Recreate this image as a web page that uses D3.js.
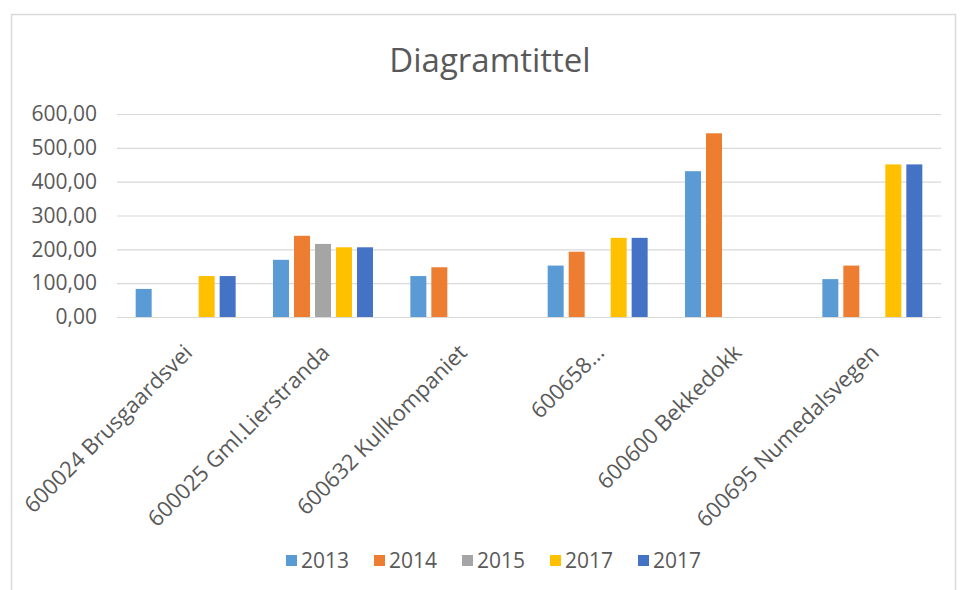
<!DOCTYPE html>
<html>
<head>
<meta charset="utf-8">
<script src="https://cdn.jsdelivr.net/npm/d3@7"></script>
<style>
  html, body { margin: 0; padding: 0; background: #fff; }
  svg { display: block; font-family: "Open Sans", "Noto Sans", sans-serif; }
</style>
</head>
<body>
<svg id="chart" width="960" height="590"></svg>
<script>
// Stations along the x axis
const categories = [
  "600024 Brusgaardsvei",
  "600025 Gml.Lierstranda",
  "600632 Kullkompaniet",
  "600658...",
  "600600 Bekkedokk",
  "600695 Numedalsvegen"
];

// One array per series; null means no bar
const seriesNames = ["2013", "2014", "2015", "2017", "2017"];
const values2013  = [83, 169, 121, 152, 431, 112];
const values2014  = [null, 240, 147, 193, 543, 152];
const values2015  = [null, 216, null, null, null, null];
const values2017a = [121, 206, null, 234, null, 451];
const values2017b = [121, 206, null, 234, null, 451];
const seriesValues = [values2013, values2014, values2015, values2017a, values2017b];
const seriesColors = ["#5B9BD5", "#ED7D31", "#A5A5A5", "#FFC000", "#4472C4"];

const yTicks = [0, 100, 200, 300, 400, 500, 600];
const title = "Diagramtittel";

const svg = d3.select("#chart");
const textColor = "#595959";
const gridColor = "#d9d9d9";

// chart area frame
svg.append("rect")
  .attr("x", 11.5).attr("y", 14.5)
  .attr("width", 944).attr("height", 600)
  .attr("fill", "#fff")
  .attr("stroke", "#d9d9d9")
  .attr("stroke-width", 1.5);

const plot = { left: 117, right: 941, top: 114, bottom: 317 };

const y = d3.scaleLinear().domain([0, 600]).range([plot.bottom, plot.top]);
const x0 = d3.scaleBand().domain(categories).range([plot.left, plot.right]).padding(0);
const x1 = d3.scaleBand().domain(d3.range(seriesNames.length))
  .range([0, x0.bandwidth()]).paddingInner(0.238).paddingOuter(0.89);

// title
svg.append("text")
  .attr("x", 490).attr("y", 72)
  .attr("text-anchor", "middle")
  .attr("fill", textColor)
  .attr("font-size", 33)
  .text(title);

// value axis with gridlines
const fmt = v => d3.format(".2f")(v).replace(".", ",");
const yAxis = d3.axisLeft(y).tickValues(yTicks).tickFormat(fmt)
  .tickSize(-(plot.right - plot.left)).tickPadding(20);
const gy = svg.append("g")
  .attr("transform", `translate(${plot.left},0)`)
  .call(yAxis);
gy.select(".domain").remove();
gy.selectAll(".tick line").attr("stroke", gridColor).attr("stroke-width", 1.2);
gy.selectAll(".tick text")
  .attr("fill", textColor)
  .attr("font-size", 21)
  .attr("font-family", "'Open Sans', sans-serif");

// bars
const groups = svg.append("g").selectAll("g")
  .data(seriesValues)
  .join("g")
  .attr("fill", (d, i) => seriesColors[i]);

groups.each(function(vals, si) {
  d3.select(this).selectAll("rect")
    .data(vals.map((v, ci) => ({ v, c: categories[ci] })).filter(d => d.v != null))
    .join("rect")
    .attr("x", d => x0(d.c) + x1(si))
    .attr("width", x1.bandwidth())
    .attr("y", d => y(d.v))
    .attr("height", d => y(0) - y(d.v));
});

// category axis labels, rotated
const xAxis = d3.axisBottom(x0).tickSize(0).tickPadding(0);
const gx = svg.append("g")
  .attr("transform", `translate(0,${plot.bottom})`)
  .call(xAxis);
gx.select(".domain").remove();
gx.selectAll(".tick text")
  .attr("fill", textColor)
  .attr("font-size", 22)
  .attr("font-family", "'Open Sans', sans-serif")
  .attr("text-anchor", "end")
  .attr("dy", 0)
  .attr("transform", "translate(8,37) rotate(-45)");

// legend
const legendX = [286, 374, 462, 550, 638];
const legend = svg.append("g").attr("transform", "translate(0,561)");
const items = legend.selectAll("g").data(seriesNames).join("g")
  .attr("transform", (d, i) => `translate(${legendX[i]},0)`);
items.append("rect")
  .attr("x", 0).attr("y", -6).attr("width", 11).attr("height", 11)
  .attr("fill", (d, i) => seriesColors[i]);
items.append("text")
  .attr("x", 15).attr("y", 7)
  .attr("fill", textColor)
  .attr("font-size", 21)
  .text(d => d);
</script>
</body>
</html>
